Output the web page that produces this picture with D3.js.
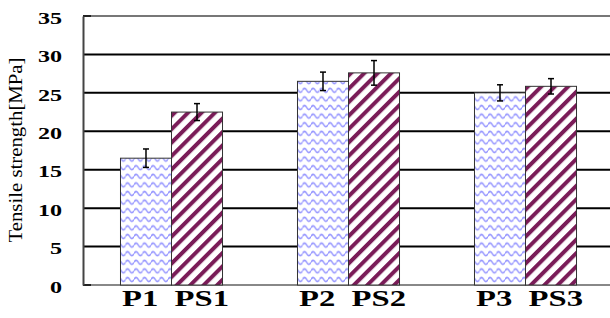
<!DOCTYPE html>
<html>
<head>
<meta charset="utf-8">
<script src="https://cdn.jsdelivr.net/npm/d3@7"></script>
<style>
  body { margin: 0; background: #fff; }
  svg { display: block; }
  text { font-family: "Liberation Serif", "Times New Roman", serif; fill: #000; }
</style>
</head>
<body>
<svg id="chart" width="610" height="318"></svg>
<script>
// values
const groups = ['1', '2', '3'];
const series = ['P', 'PS'];
const pValues = [16.5, 26.5, 25.0];
const psValues = [22.5, 27.6, 25.85];
const pErrors = [1.2, 1.2, 1.05];
const psErrors = [1.1, 1.6, 1.0];
const yTicks = [0, 5, 10, 15, 20, 25, 30, 35];

const serif = '"Liberation Serif", "Times New Roman", serif';
const stretch = 1.42; // the original text is drawn wide
const svg = d3.select('#chart');
const plotLeft = 83, plotTop = 16, plotBottom = 285, groupStep = 177;

const y = d3.scaleLinear().domain([0, 35]).range([plotBottom, plotTop]);
const x0 = d3.scaleBand().domain(groups)
  .range([plotLeft, plotLeft + groupStep * groups.length]).padding(0);
const x1 = d3.scaleBand().domain(series)
  .range([0, x0.bandwidth()]).paddingInner(0).paddingOuter(0.735);

// patterns
const defs = svg.append('defs');
const wave = defs.append('pattern')
  .attr('id', 'wave').attr('patternUnits', 'userSpaceOnUse')
  .attr('width', 8.5).attr('height', 8.6);
wave.append('rect').attr('width', 8.5).attr('height', 8.6).attr('fill', '#fff');
wave.append('path')
  .attr('d', 'M0,4.3 Q2.125,0.2 4.25,4.3 T8.5,4.3')
  .attr('fill', 'none').attr('stroke', '#9494ff').attr('stroke-width', 1.5);

const stripe = defs.append('pattern')
  .attr('id', 'stripe').attr('patternUnits', 'userSpaceOnUse')
  .attr('width', 9.5).attr('height', 9.5)
  .attr('patternTransform', 'rotate(45)');
stripe.append('rect').attr('width', 9.5).attr('height', 9.5).attr('fill', '#fff');
stripe.append('rect').attr('x', 0).attr('width', 4).attr('height', 9.5).attr('fill', '#7a1c58');

// grid lines
svg.append('g').selectAll('line')
  .data(yTicks.filter(t => t > 0 && t < 35))
  .enter().append('line')
  .attr('x1', plotLeft).attr('x2', 610)
  .attr('y1', d => y(d)).attr('y2', d => y(d))
  .attr('stroke', '#000').attr('stroke-width', 2);

// top and bottom borders
svg.append('line').attr('x1', plotLeft).attr('x2', 610)
  .attr('y1', y(35)).attr('y2', y(35))
  .attr('stroke', '#777').attr('stroke-width', 2);
svg.append('line').attr('x1', plotLeft).attr('x2', 610)
  .attr('y1', y(0)).attr('y2', y(0))
  .attr('stroke', '#888').attr('stroke-width', 2);
svg.append('line').attr('x1', plotLeft).attr('x2', plotLeft + 8)
  .attr('y1', y(35)).attr('y2', y(35)).attr('stroke', '#222').attr('stroke-width', 2);
svg.append('line').attr('x1', plotLeft).attr('x2', plotLeft + 8)
  .attr('y1', y(0)).attr('y2', y(0)).attr('stroke', '#222').attr('stroke-width', 2);

// bars
const rows = groups.map((g, i) => ({
  g,
  items: [
    {s: 'P', v: pValues[i], e: pErrors[i]},
    {s: 'PS', v: psValues[i], e: psErrors[i]},
  ],
}));

const gs = svg.append('g').selectAll('g')
  .data(rows).enter().append('g')
  .attr('transform', d => `translate(${x0(d.g)},0)`);

gs.selectAll('rect')
  .data(d => d.items).enter().append('rect')
  .attr('x', d => x1(d.s))
  .attr('y', d => y(d.v))
  .attr('width', x1.bandwidth())
  .attr('height', d => y(0) - y(d.v))
  .attr('fill', d => d.s === 'P' ? 'url(#wave)' : 'url(#stripe)')
  .attr('stroke', '#333').attr('stroke-width', 1);

// error bars
const eb = gs.selectAll('g.err')
  .data(d => d.items).enter().append('g').attr('class', 'err')
  .attr('transform', d => `translate(${x1(d.s) + x1.bandwidth() / 2},0)`);
eb.append('line').attr('x1', 0).attr('x2', 0)
  .attr('y1', d => y(d.v + d.e)).attr('y2', d => y(d.v - d.e))
  .attr('stroke', '#000').attr('stroke-width', 1.5);
eb.append('line').attr('x1', -3).attr('x2', 3)
  .attr('y1', d => y(d.v + d.e)).attr('y2', d => y(d.v + d.e))
  .attr('stroke', '#000').attr('stroke-width', 1.5);
eb.append('line').attr('x1', -3).attr('x2', 3)
  .attr('y1', d => y(d.v - d.e)).attr('y2', d => y(d.v - d.e))
  .attr('stroke', '#000').attr('stroke-width', 1.5);

// left axis
const yAxis = svg.append('g')
  .attr('transform', `translate(${plotLeft},0)`)
  .call(d3.axisLeft(y).tickValues(yTicks).tickSize(0).tickPadding(21));
yAxis.select('.domain').attr('stroke', '#444').attr('stroke-width', 2);
yAxis.attr('font-family', null).attr('font-size', null);
yAxis.selectAll('text')
  .style('font-family', serif)
  .style('font-size', '17px').style('font-weight', 'bold')
  .attr('x', -21 / stretch)
  .attr('dy', '0.42em')
  .attr('transform', `scale(${stretch},1)`);

// x labels: one wide label per group
gs.append('text')
  .attr('transform', d => `translate(${x0.bandwidth() / 2 + 4},306) scale(${stretch},1)`)
  .attr('text-anchor', 'middle')
  .style('white-space', 'pre')
  .style('font-family', serif)
  .style('font-size', '23px').style('font-weight', 'bold')
  .text(d => `P${d.g}  PS${d.g}`);

// y title
svg.append('text')
  .attr('transform', `translate(22,150) rotate(-90) scale(1,1.1)`)
  .attr('text-anchor', 'middle')
  .attr('textLength', 185).attr('lengthAdjust', 'spacingAndGlyphs')
  .style('font-family', serif)
  .style('font-size', '17px')
  .text('Tensile strength[MPa]');
</script>
</body>
</html>
